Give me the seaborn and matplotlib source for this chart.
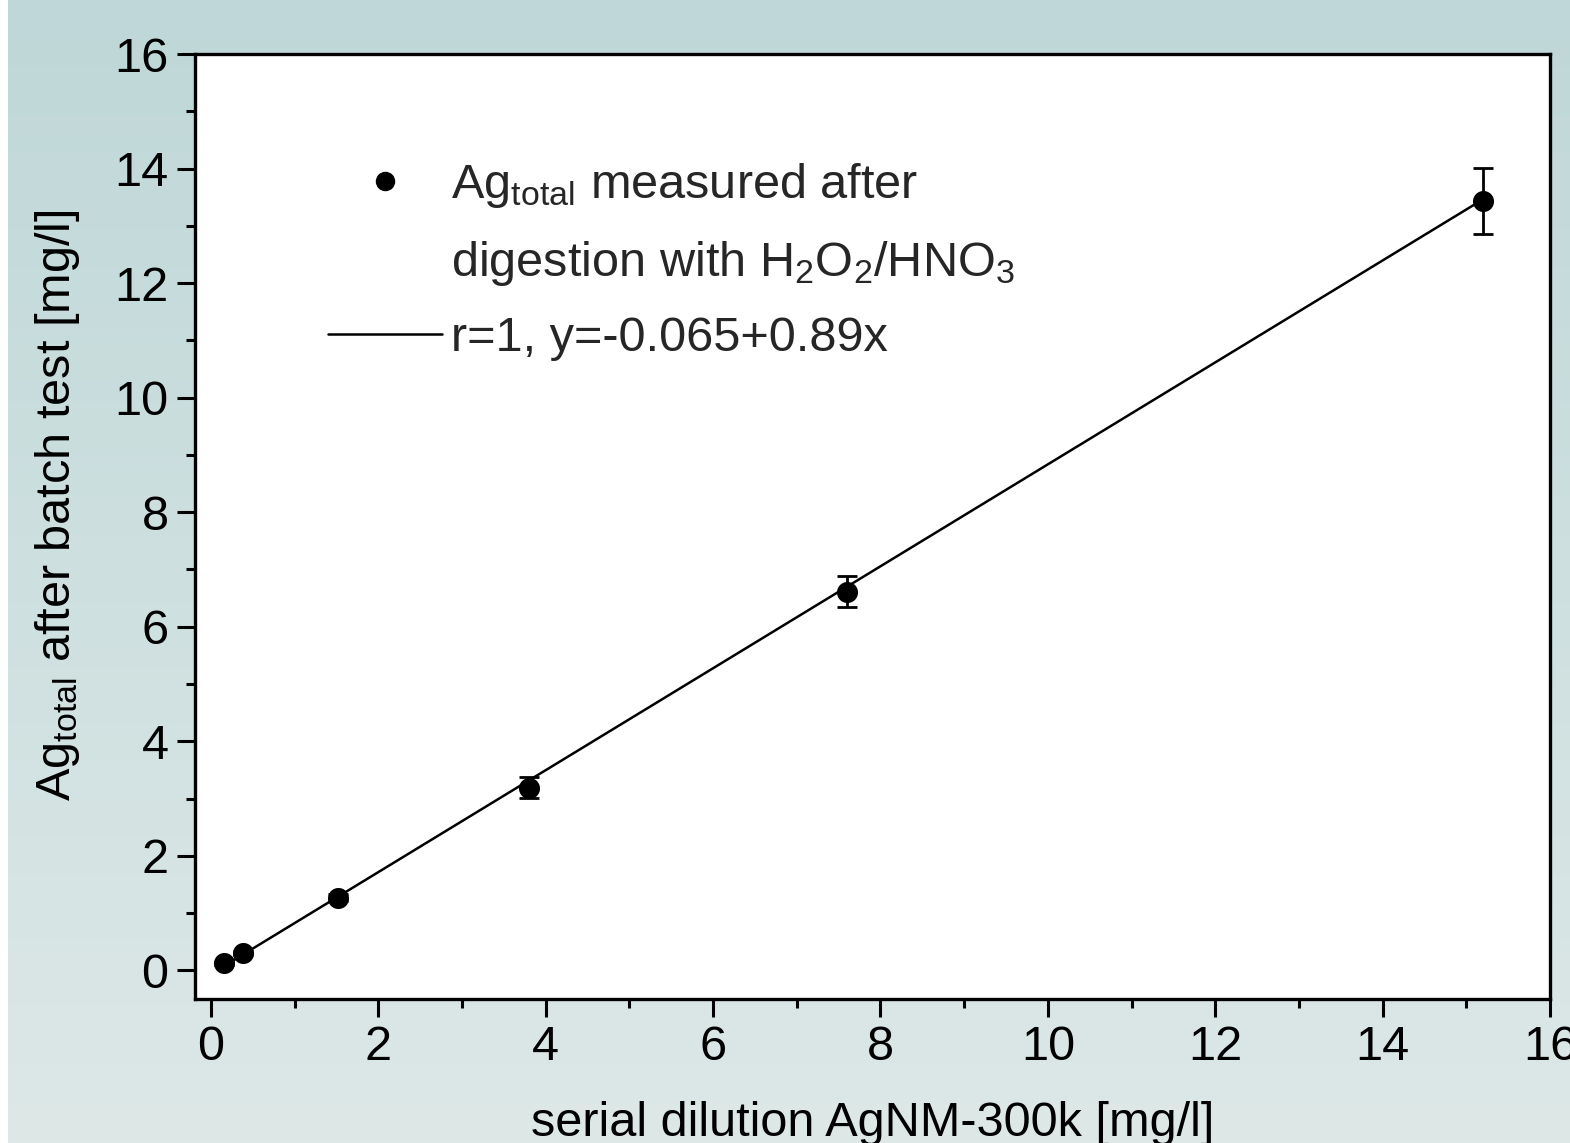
import numpy as np
import pandas as pd
import seaborn as sns
import matplotlib.pyplot as plt
from matplotlib.lines import Line2D
from matplotlib.colors import LinearSegmentedColormap

# data
dilution = [0.152, 0.38, 1.52, 3.8, 7.6, 15.2]
ag_total = [0.12, 0.30, 1.27, 3.19, 6.61, 13.43]
ag_err = [0.03, 0.04, 0.06, 0.18, 0.27, 0.58]
fit_intercept = -0.065
fit_slope = 0.89
x_ticks = [0, 2, 4, 6, 8, 10, 12, 14, 16]
y_ticks = [0, 2, 4, 6, 8, 10, 12, 14, 16]

df = pd.DataFrame({"x": dilution, "y": ag_total, "err": ag_err})
fit = pd.DataFrame({"x": [dilution[0], dilution[-1]]})
fit["y"] = fit_intercept + fit_slope * fit["x"]

sns.set_theme(style="ticks")
plt.rcParams["font.family"] = ["Liberation Sans", "DejaVu Sans"]
plt.rcParams["mathtext.fontset"] = "custom"
plt.rcParams["mathtext.rm"] = "Liberation Sans"
plt.rcParams["mathtext.it"] = "Liberation Sans"

fs = 35

fig = plt.figure(figsize=(15.7, 11.43), dpi=100)
fig.patch.set_facecolor("white")

# background gradient
bg = fig.add_axes([8 / 1570, 0, 1 - 8 / 1570, 1], zorder=-10)
grad = np.linspace(0, 1, 256).reshape(-1, 1)
cmap = LinearSegmentedColormap.from_list("bg", ["#bfd7d8", "#dde8e7"])
bg.imshow(grad, aspect="auto", cmap=cmap, extent=[0, 1, 0, 1], origin="upper")
bg.axis("off")

ax = fig.add_axes([195 / 1570, 1 - 999 / 1143, (1550 - 195) / 1570, (999 - 54) / 1143])
ax.set_facecolor("white")

sns.lineplot(data=fit, x="x", y="y", ax=ax, color="black", linewidth=1.8, zorder=2)
ax.errorbar(df["x"], df["y"], yerr=df["err"], fmt="none", ecolor="black",
            elinewidth=2, capsize=7, capthick=2, zorder=3)
sns.scatterplot(data=df, x="x", y="y", ax=ax, color="black", s=230,
                edgecolor="black", linewidth=0, zorder=4)

ax.set_xlim(-0.19, 16)
ax.set_ylim(-0.5, 16)
ax.set_xticks(x_ticks)
ax.set_yticks(y_ticks)
ax.set_xticks(np.arange(1, 16, 2), minor=True)
ax.set_yticks(np.arange(1, 16, 2), minor=True)
ax.tick_params(axis="both", which="major", length=13, width=2.2, labelsize=fs,
               color="black", labelcolor="black", pad=6)
ax.tick_params(axis="both", which="minor", length=6.5, width=2.2, color="black")
ax.tick_params(top=False, right=False, which="both")
for s in ax.spines.values():
    s.set_linewidth(2.4)
    s.set_color("black")

ax.set_xlabel("serial dilution AgNM-300k [mg/l]", fontsize=fs, color="black", labelpad=22)
ax.set_ylabel(r"Ag$_{\mathrm{total}}$ after batch test [mg/l]", fontsize=fs,
              color="black", labelpad=23)
ax.yaxis.label.set_y(0.523)

handles = [
    Line2D([], [], marker="o", color="black", linestyle="none", markersize=13),
    Line2D([], [], linestyle="none"),
    Line2D([], [], color="black", linewidth=1.8),
]
labels = [
    r"Ag$_{\mathrm{total}}$ measured after",
    r"digestion with H$_{\mathrm{2}}$O$_{\mathrm{2}}$/HNO$_{\mathrm{3}}$",
    "r=1, y=-0.065+0.89x",
]
ax.legend(handles, labels, loc="upper left", bbox_to_anchor=(0.084, 0.907),
          frameon=False, fontsize=fs, handlelength=2.33, handletextpad=0.19,
          labelspacing=0.58, borderaxespad=0)

fig.savefig("out.png", dpi=100)
